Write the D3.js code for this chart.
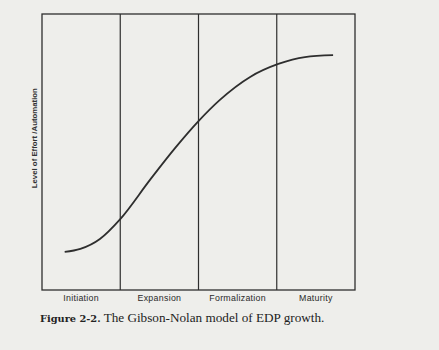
<!DOCTYPE html>
<html><head><meta charset="utf-8">
<script src="https://cdn.jsdelivr.net/npm/d3@7"></script>
<style>html,body{margin:0;padding:0;background:#eeeeeb;}svg{display:block;}</style>
</head><body>
<svg id="c" width="439" height="350"></svg>
<script>
const stages = ["Initiation", "Expansion", "Formalization", "Maturity"];
const curveX = [0.29, 0.49, 0.74, 1.0, 1.38, 1.70, 2.0, 2.27, 2.66, 3.02, 3.36, 3.72];
const curveY = [13.8, 14.9, 18.5, 25.7, 39.9, 51.4, 61.2, 68.8, 77.2, 81.9, 84.4, 85.1];
const yLabel = "Level of Effort /Automation";
const captionBold = "Figure 2-2.";
const captionText = " The Gibson-Nolan model of EDP growth.";

const svg = d3.select("#c");
const x = d3.scaleLinear().domain([0, 4]).range([42, 355]);
const y = d3.scaleLinear().domain([0, 100]).range([290, 14]);
const ink = "#2e2e2e";

// frame
svg.append("rect").attr("x", x(0)).attr("y", y(100))
  .attr("width", x(4) - x(0)).attr("height", y(0) - y(100))
  .attr("fill", "none").attr("stroke", ink).attr("stroke-width", 1.3);

// stage dividers
svg.selectAll("line.div").data(d3.range(1, stages.length)).enter().append("line")
  .attr("class", "div")
  .attr("x1", d => x(d)).attr("x2", d => x(d))
  .attr("y1", y(100)).attr("y2", y(0))
  .attr("stroke", ink).attr("stroke-width", 1.2);

// stage labels
svg.selectAll("text.stage").data(stages).enter().append("text")
  .attr("class", "stage")
  .attr("x", (d, i) => x(i + 0.5)).attr("y", 300.5)
  .attr("text-anchor", "middle")
  .attr("font-family", "Liberation Sans, Arial, sans-serif")
  .attr("font-size", 8.8).attr("letter-spacing", 0.3)
  .attr("fill", "#2a2a2a").text(d => d);

// y label
svg.append("text")
  .attr("transform", `translate(37,${y(55)}) rotate(-90)`)
  .attr("text-anchor", "middle")
  .attr("font-family", "Liberation Sans, Arial, sans-serif")
  .attr("font-size", 7.8).attr("font-weight", "bold")
  .attr("fill", "#333").text(yLabel);

// curve
const pts = curveX.map((v, i) => [v, curveY[i]]);
const line = d3.line().x(d => x(d[0])).y(d => y(d[1])).curve(d3.curveMonotoneX);
svg.append("path").datum(pts).attr("d", line)
  .attr("fill", "none").attr("stroke", ink).attr("stroke-width", 1.8);

// caption
const cap = svg.append("text").attr("x", 40).attr("y", 322)
  .attr("fill", "#222");
cap.append("tspan").attr("font-family", "DejaVu Serif, serif").attr("font-weight", "bold")
  .attr("font-size", 9.8).text(captionBold);
cap.append("tspan").attr("font-family", "Liberation Serif, Times New Roman, serif")
  .attr("font-size", 13.2).text(captionText);
</script>
</body></html>
